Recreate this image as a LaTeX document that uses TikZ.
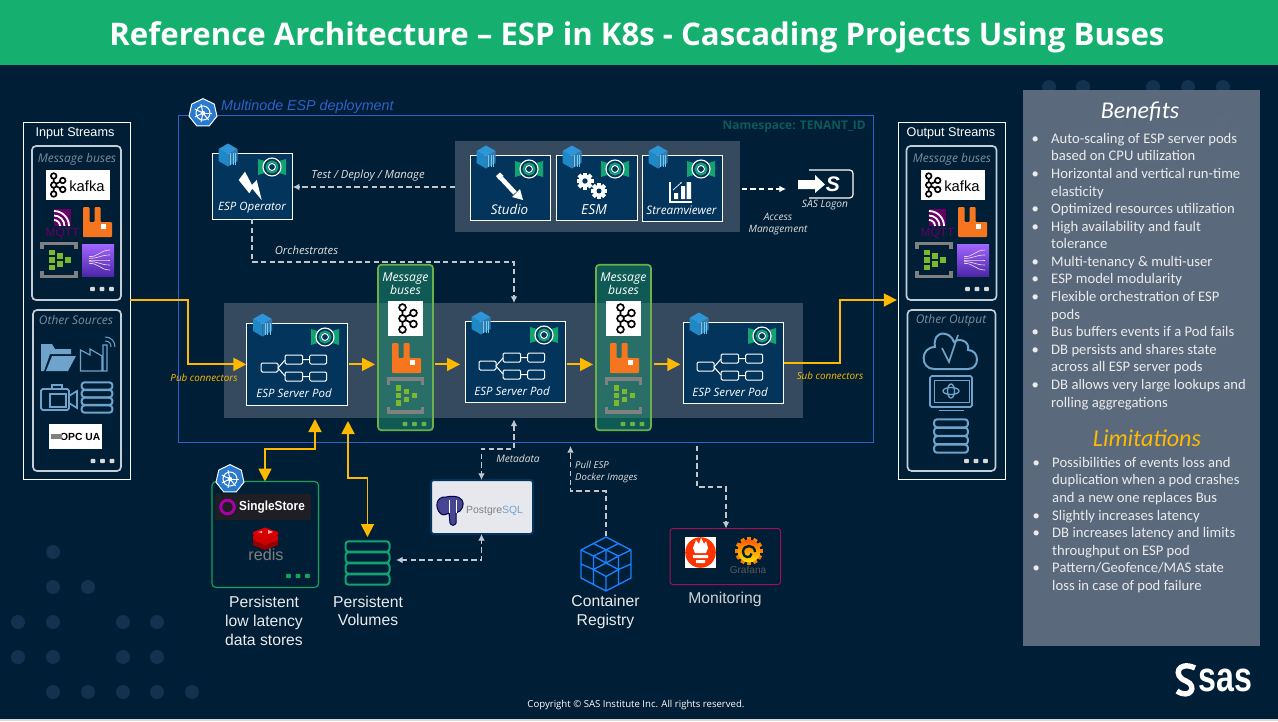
\documentclass[tikz,border=0pt]{standalone}
\usepackage{fontspec}
\setmainfont{Open Sans}
\newfontfamily\arial{Liberation Sans}
\newfontfamily\carlito{Carlito}
\usetikzlibrary{arrows.meta,shapes.geometric}
\definecolor{fond}{HTML}{001F36}
\definecolor{titre}{HTML}{15B070}
\definecolor{panneau}{HTML}{354A5E}
\definecolor{podbleu}{HTML}{03345C}
\definecolor{lateral}{HTML}{5F6E80}
\definecolor{point}{HTML}{12324F}
\definecolor{or}{HTML}{FFB900}
\definecolor{gristir}{HTML}{BFC7CF}
\definecolor{kbleu}{HTML}{2F62C8}
\definecolor{cadre}{HTML}{C5CDD6}
\definecolor{sourdine}{HTML}{7D8C9C}
\definecolor{ciel}{HTML}{6FA3CC}
\definecolor{feuille}{HTML}{6CB04A}
\definecolor{vertdb}{HTML}{12A35C}
\definecolor{vertpile}{HTML}{12A372}
\definecolor{prune}{HTML}{660066}
\definecolor{herbe}{HTML}{7AB82E}
\definecolor{espace}{HTML}{0D5A5A}
\definecolor{magenta1}{HTML}{9E1056}
\definecolor{rabbit}{HTML}{F6761F}
\newcommand{\fs}[1]{\fontsize{#1}{#1}\selectfont}
\newcommand{\ligne}{\par\noindent\llap{\textbullet\hspace{10.5pt}}}
\begin{document}
\begin{tikzpicture}[x=0.03cm, y=-0.03cm]
	\tikzset{
		taille/.style 2 args={minimum width=#1*0.03cm, minimum height=#2*0.03cm, inner sep=0, outer sep=0},
		boite/.style={rectangle, draw=white, line width=0.03cm},
		pod/.style={boite, fill=podbleu},
		groupe/.style={rectangle, draw=cadre, line width=0.05cm, rounded corners=0.12cm},
		gris/.style={rectangle, fill=panneau},
		busvert/.style={rectangle, draw=feuille, line width=0.05cm, rounded corners=0.1cm, fill=none},
		etiq/.style={inner sep=0, text=white, font=\fs{9.8}\itshape},
		petit/.style={inner sep=0, text=white!88!black, font=\fs{9.6}\itshape, align=center},
		sourd/.style={inner sep=0, text=sourdine, font=\fs{10.2}\itshape},
		jaunet/.style={inner sep=0, text=or, font=\fs{8.4}\itshape},
		legende/.style={inner sep=0, text=white!92!black, font=\arial\fs{13.4}, align=center},
		fleche/.style={>={Triangle[length=0.39cm, width=0.39cm]}, ->, draw=or, line width=0.055cm},
		tiret/.style={>={Latex[length=0.2cm, width=0.2cm]}, ->, draw=gristir, line width=0.035cm, dash pattern=on 0.16cm off 0.1cm},
		pics/cube/.style={code={
			\fill[cyan!70!blue!85!white] (0,-11.5) -- (9.5,-6) -- (0,-1) -- (-9.5,-6) -- cycle;
			\fill[cyan!75!blue!90!black] (-9.5,-6) -- (0,-1) -- (0,11.5) -- (-9.5,6) -- cycle;
			\fill[cyan!70!blue!75!black] (0,-1) -- (9.5,-6) -- (9.5,6) -- (0,11.5) -- cycle;
			\foreach \x in {2.5,5,7.5} \draw[cyan!60!white, line width=0.015cm] (\x,-2) -- (\x,9.5);
		}},
		pics/badge/.style={code={
			\fill[vertpile] (-14,-8) -- (-4,-5) -- (-4,5) -- (-14,8) -- cycle;
			\fill[vertpile] (14,-8) -- (4,-5) -- (4,5) -- (14,8) -- cycle;
			\draw[white, fill=podbleu, line width=0.035cm] (0,0) circle (9);
			\draw[vertpile, line width=0.06cm] (0,0) circle (5.5);
			\draw[white, line width=0.03cm] (0,0) circle (3.5);
		}},
		pics/flot/.style={code={
			\draw[white, line width=0.03cm, rounded corners=0.04cm]
				(-33,-5) rectangle (-16,4) (-9,-13) rectangle (8.7,-4) (15.7,-13) rectangle (32.7,-4)
				(-9,4) rectangle (8.7,13) (15.7,4) rectangle (32.7,13);
			\draw[white, line width=0.03cm] (-16,0) -- (-9,-8) (-16,0) -- (-9,8) (8.7,-8.5) -- (15.7,-8.5) (8.7,8.5) -- (15.7,8.5);
		}},
		pics/trois/.style={code={
			\foreach \x in {-9.5,0,9.5} \fill[#1, rounded corners=0.02cm] (\x-2.3,-2.1) rectangle (\x+2.3,2.1);
		}},
		pics/kafka/.style={code={
			\draw[black, line width=0.05cm] (-4,0) -- (-4,-11) (-4,0) -- (-4,11) (-4,0) -- (7,-5.5) (-4,0) -- (7,5.5);
			\foreach \p in {(-4,0),(-4,-11),(-4,11),(7,-5.5),(7,5.5)} \draw[black, fill=white, line width=0.05cm] \p circle (3.4);
		}},
		pics/lapin/.style={code={
			\fill[rabbit, rounded corners=0.03cm] (-14.5,-15) -- (-8,-15) -- (-8,0) -- (-3,0) -- (-3,-15) -- (3,-15) -- (3,0) -- (14.5,0) -- (14.5,15) -- (-14.5,15) -- cycle;
			\fill[white] (3,2) rectangle (8,7);
		}},
		pics/hub/.style={code={
			\draw[gray, line width=0.1cm] (-17,-11) -- (-17,-16.5) -- (17,-16.5) -- (17,-11);
			\draw[gray, line width=0.1cm] (-17,11) -- (-17,16.5) -- (17,16.5) -- (17,11);
			\foreach \p in {(-7,-7.5),(-7,0),(-7,7.5),(1,-4),(1,4),(9,0)} \fill[herbe] \p ++(-2.8,-2.6) rectangle ++(5.6,5.2);
		}},
		pics/kinesis/.style={code={
			\shade[top color={rgb,255:red,161;green,102;blue,255}, bottom color={rgb,255:red,77;green,39;blue,168}] (-16,-16) rectangle (16,16);
			\foreach \a/\b in {-10/-8,-5/-4,0/0,5/4,10/8} \draw[white!85!violet, line width=0.02cm] (-9,\b*0.45) .. controls (0,\b*0.3) and (2,\a) .. (12,\a);
		}},
		pics/mqtt/.style={code={
			\fill[prune] (-8.5,-13) rectangle (8.5,4);
			\foreach \r in {6,10.5,15} \draw[white, line width=0.055cm] (-8.5,4-\r) .. controls (-8.5+\r*0.55,4-\r) and (-8.5+\r,4-\r*0.55) .. (-8.5+\r,4);
			\node[inner sep=0, text=prune, font=\arial\fs{10.2}] (t) at (0,11) {MQTT};
		}},
		pics/pile/.style={code={
			\foreach \y in {-16.5,-5.5,5.5,16.5} \draw[#1, line width=0.06cm, rounded corners=0.09cm] (-22,\y-5.2) rectangle (22,\y+5.2);
		}},
		pics/kube/.style={code={
			\node[regular polygon, regular polygon sides=7, draw=white, fill=kbleu!85!cyan, line width=0.03cm, minimum size=0.86cm, inner sep=0] (h) at (0,0) {};
			\draw[white, line width=0.03cm] (0,0) circle (7);
			\foreach \a in {0,51.4,...,308} \draw[white, line width=0.03cm] (0,0) -- (\a:9);
			\fill[white] (0,0) circle (2.2);
		}},
		pics/logokafka/.style={code={
			\node[fill=white, taille={64}{30}] (b) at (0,0) {};
			\pic[scale=0.82] at (-21,0) {kafka};
			\node[inner sep=0, text=black, font=\arial\fs{12.6}] (t) at (9,1) {kafka};
		}},
		pics/bus5/.style={code={
			\pic (k) at (1,-37) {logokafka};
			\pic (m) at (-14.5,0) {mqtt};
			\pic at (20.5,0) {lapin};
			\pic at (-18,38) {hub};
			\pic at (21,38) {kinesis};
			\pic at (25,67) {trois={white!85!black}};
		}},
	}

	\path[use as bounding box, fill=fond] (0,0) rectangle (1278,721);
	\foreach \p in {(53,552),(53,587),(88,587),(18,622),(53,622),(123,622),(157,622),(18,657),(53,657),(123,657),(157,657),(53,692),(88,692),(123,692),(157,692),(192,692),(1049,87),(1083,87),(1153,87),(1188,87),(1223,87),(1118,122),(1153,122),(1223,122),(1153,157)}
		\fill[point] \p circle (7);
	\fill[white!85!black] (0,719) rectangle (1278,721);

	\node[fill=titre, taille={1278}{65}] (bande) at (639,32.5) {};
	\node[inner sep=0, text=white, font=\bfseries\fs{26.6}] (titre1) at (637,37) {Reference Architecture – ESP in K8s - Cascading Projects Using Buses};

	\node[fill=lateral, fill opacity=0.95, taille={237}{556}] (droite) at (1141.5,368) {};
	\node[inner sep=0, text=white, font=\carlito\itshape\fs{20.5}] (benef) at (1140,112) {Benefits};
	\node[inner sep=0, text=or, font=\carlito\itshape\fs{20.6}] (limit) at (1147,438) {Limitations};
	\node[inner sep=0, anchor=north west, text=white!92!black, font=\carlito\fs{12.5}] (liste1) at (1051,133) {\parbox{195pt}{\baselineskip=15pt
		\ligne Auto-scaling of ESP server pods\newline based on CPU utilization
		\ligne Horizontal and vertical run-time\newline elasticity
		\ligne Optimized resources utilization
		\ligne High availability and fault\newline tolerance
		\ligne Multi-tenancy \& multi-user
		\ligne ESP model modularity
		\ligne Flexible orchestration of ESP\newline pods
		\ligne Bus buffers events if a Pod fails
		\ligne DB persists and shares state\newline across all ESP server pods
		\ligne DB allows very large lookups and\newline rolling aggregations}};
	\node[inner sep=0, anchor=north west, text=white!92!black, font=\carlito\fs{12.5}] (liste2) at (1052,457) {\parbox{195pt}{\baselineskip=15pt
		\ligne Possibilities of events loss and\newline duplication when a pod crashes\newline and a new one replaces Bus
		\ligne Slightly increases latency
		\ligne DB increases latency and limits\newline throughput on ESP pod
		\ligne Pattern/Geofence/MAS state\newline loss in case of pod failure}};

	\node[draw=kbleu, line width=0.028cm, taille={695}{327}] (deploy) at (525.5,278.5) {};
	\pic at (203,113) {kube};
	\node[inner sep=0, anchor=west, text=kbleu, font=\arial\itshape\fs{12.2}] (multi) at (221,107) {Multinode ESP deployment};
	\node[inner sep=0, anchor=east, text=espace, font=\bfseries\fs{10.2}] (espacet) at (866,127) {Namespace: TENANT\_ID};

	\node[gris, taille={285}{91}] (haut) at (597.5,186.5) {};
	\node[gris, taille={579}{115}] (milieu) at (513.5,360.5) {};

	\node[boite, fill=none, taille={107}{357}] (entree) at (76.5,300.5) {};
	\node[groupe, taille={89}{154}] (ebus) at (76.5,223) {};
	\node[groupe, taille={88}{161}] (eautre) at (77,390.5) {};
	\node[inner sep=0, text=white, font=\arial\fs{10.8}] (entreet) at (75,133) {Input Streams};
	\node[sourd] (ebust) at (77,159) {Message buses};
	\node[sourd] (eautret) at (76,320) {Other Sources};
	\pic (e) at (77,222) {bus5};

	\node[boite, fill=none, taille={107}{357}] (sortie) at (952,300.5) {};
	\node[groupe, taille={90}{154}] (sbus) at (951.5,223) {};
	\node[groupe, taille={88}{161}] (sautre) at (951.5,390.5) {};
	\node[inner sep=0, text=white, font=\arial\fs{10.8}] (sortiet) at (951,133) {Output Streams};
	\node[sourd] (sbust) at (952,159) {Message buses};
	\node[sourd] (sautret) at (951,320) {Other Output};
	\pic (s) at (952,222) {bus5};

	\fill[ciel] (41,344) -- (52,344) -- (55,349) -- (71,349) -- (71,354) -- (50,354) -- (44,371) -- (41,371) -- cycle;
	\fill[ciel] (52,356) -- (76,356) -- (68,371) -- (46,371) -- cycle;
	\draw[ciel, line width=0.035cm] (80.5,371) -- (80.5,350) -- (90,355) -- (90,349) -- (102,356) -- (102,371) -- cycle (102,371) -- (107,371) -- (107,345) -- (103,345) -- (103,371);
	\draw[ciel, line width=0.03cm] (105,341) .. controls (109,341) and (111,343) .. (111,347) (105,337) .. controls (111,337) and (115,341) .. (115,347);
	\draw[ciel, line width=0.05cm, rounded corners=0.05cm] (41,389) rectangle (69,410);
	\draw[ciel, line width=0.05cm] (50,394) rectangle (66,407) (52,389) -- (52,385) -- (62,385) -- (62,389) (69,396) -- (77,391) -- (77,408) -- (69,403);
	\pic[scale=0.7] at (97,397.5) {pile=ciel};
	\node[fill=white, taille={53}{25}] (opc) at (75.5,436.5) {};
	\node[inner sep=0, anchor=east, text=black, font=\arial\bfseries\fs{8.8}] (opct) at (100.5,437) {OPC UA};
	\fill[gray] (51,434) rectangle (62,439);
	\pic at (102.5,461) {trois={white!85!black}};

	\draw[ciel, line width=0.06cm] (934,369) -- (968,369) .. controls (980,369) and (980,350) .. (968,350) .. controls (970,340) and (958,338) .. (954,342) .. controls (950,330) and (932,330) .. (935,347) .. controls (920,347) and (920,369) .. (934,369);
	\draw[ciel, line width=0.05cm] (942,348) -- (949,362) -- (958,335);
	\draw[ciel, line width=0.05cm, rounded corners=0.05cm] (930,376) rectangle (972,407);
	\draw[ciel, line width=0.03cm] (934,380) rectangle (969,402) (939,410) -- (964,410);
	\draw[ciel, line width=0.04cm] (951,391) ellipse (8 and 3.5) (951,391) ellipse (3.5 and 7);
	\pic[scale=0.77] at (951,436) {pile=ciel};
	\pic at (976,461) {trois={white!85!black}};

	\node[pod, taille={80.5}{66}] (oper) at (252.5,186) {};
	\pic at (228,155) {cube};
	\pic at (272,167) {badge};
	\fill[white] (238.7,180) -- (245,171.7) -- (252,185) -- (256.7,180) -- (261.7,200) -- (252.3,188.7) -- (249.3,193.3) -- cycle;
	\node[etiq] (opert) at (252,207.5) {ESP Operator};

	\node[pod, taille={80}{65}] (studio) at (510,187.5) {};
	\node[pod, taille={81}{65}] (esm) at (596.5,187.5) {};
	\node[pod, taille={80.5}{66}] (viewer) at (682.3,188) {};
	\foreach \x in {486,572,658} \pic at (\x,157) {cube};
	\foreach \x in {529,615,701} \pic at (\x,169) {badge};
	\draw[white, line width=0.14cm] (501,178) -- (515,193);
	\fill[white] (500,172.5) -- (496,176) -- (499,180) -- (503.5,176) -- cycle;
	\fill[white] (512,197) -- (520,189) -- (523,200) -- cycle;
	\foreach \a in {0,45,...,315} {
		\fill[white, shift={(585,181)}, rotate=\a] (-2,-8.5) rectangle (2,0);
		\fill[white, shift={(599,191)}, rotate=\a] (-2,-8) rectangle (2,0);
	}
	\fill[white] (585,181) circle (6.5) (599,191) circle (6);
	\fill[podbleu] (585,181) circle (2.7) (599,191) circle (2.5);
	\draw[white, line width=0.035cm] (670,182) -- (670,202) -- (692,202);
	\fill[white] (674,193) rectangle (678,199) (681,186) rectangle (685,199) (686.5,182) rectangle (691,199);
	\draw[white, line width=0.02cm, -{Latex[length=0.06cm]}] (673,190) -- (682,182);
	\node[etiq, font=\fs{11.4}\itshape] (studiot) at (509.5,209.5) {Studio};
	\node[etiq, font=\fs{11.8}\itshape] (esmt) at (594,209.5) {ESM};
	\node[etiq, font=\fs{10}\itshape] (viewert) at (681.5,210.5) {Streamviewer};

	\node[pod, taille={101.4}{81.2}] (pod1) at (297,364.4) {};
	\node[pod, taille={100.7}{81.4}] (pod2) at (515.4,362) {};
	\node[pod, taille={100.4}{81.4}] (pod3) at (733.5,363) {};
	\pic at (262.5,325) {cube};
	\pic at (481,323) {cube};
	\pic at (699,324) {cube};
	\pic at (325,337) {badge};
	\pic at (544,335) {badge};
	\pic at (762,336) {badge};
	\pic at (294,368) {flot};
	\pic at (512,366) {flot};
	\pic at (730,367) {flot};
	\node[etiq] (pod1t) at (294,393.5) {ESP Server Pod};
	\node[etiq] (pod2t) at (512,391.5) {ESP Server Pod};
	\node[etiq] (pod3t) at (730,392.5) {ESP Server Pod};

	\foreach \n/\x in {bus1/405.5, bus2/623.5} {
		\node[draw=none, fill={rgb,255:red,30;green,149;blue,114}, fill opacity=0.5, taille={55}{165.5}] (\n) at (\x,347.5) {};
		\node[busvert, taille={55}{165.5}] (\n c) at (\x,347.5) {};
		\node[etiq, align=center, font=\fs{10.4}\itshape] (\n t) at (\x,284) {Message\\[0.5pt]buses};
		\node[fill=white, taille={35.5}{35.5}] (\n k) at (\x,318.5) {};
		\pic at (\x+1,318.5) {kafka};
		\pic at (\x+1,358) {lapin};
		\pic at (\x,395.5) {hub};
		\pic at (\x+9,424) {trois=feuille};
	}

	\node[draw=vertdb, line width=0.035cm, rounded corners=0.12cm, taille={106.5}{106}] (stores) at (265.3,534.5) {};
	\pic at (230,479) {kube};
	\node[fill={rgb,255:red,30;green,30;blue,36}, taille={96}{26}] (single) at (263,507) {};
	\draw[violet!70!magenta, line width=0.09cm] (227.5,507) circle (6.8);
	\node[inner sep=0, anchor=west, text=white, font=\arial\bfseries\fs{11.2}] (singlet) at (239,507) {\scalebox{0.9}[1]{SingleStore}};
	\fill[red!60!black] (253,541) -- (265,536) -- (278,541) -- (278,545) -- (265,550) -- (253,545) -- cycle;
	\fill[red!80!black] (253,536) -- (265,531) -- (278,536) -- (278,540) -- (265,545) -- (253,540) -- cycle;
	\fill[red!85!black] (253,532) -- (265,527.5) -- (278,532) -- (278,535) -- (265,540) -- (253,535) -- cycle;
	\fill[white!70!red] (258,532) -- (262,531) -- (262,533) -- cycle (268,530) -- (273,532) -- (268,534) -- cycle;
	\node[inner sep=0, text=gray, font=\arial\fs{13.8}] (redis) at (266,555) {redis};
	\pic at (298,576) {trois=vertdb};
	\node[legende] (storest) at (264,621) {Persistent\\[2.6pt]low latency\\[2.6pt]data stores};

	\pic at (367.5,563) {pile=vertpile};
	\node[legende] (volt) at (368,611) {Persistent\\[2.6pt]Volumes};
	\coordinate (pileh) at (367.5,537);
	\coordinate (piled) at (396,560);

	\node[draw=podbleu, fill={rgb,255:red,230;green,232;blue,237}, line width=0.06cm, rounded corners=0.08cm, taille={102}{54}] (pg) at (482,507) {};
	\draw[black!70!blue, line width=0.03cm, fill=blue!35!gray!85!black] (446,497) .. controls (436,496) and (434,508) .. (441,514) .. controls (444,516) and (447,514) .. (449,513) -- (450,523) .. controls (451,526) and (455,526) .. (456,523) -- (456,513) .. controls (462,512) and (465,504) .. (462,500) .. controls (458,495) and (451,496) .. (446,497) -- cycle;
	\draw[white, line width=0.02cm] (449,500) -- (449,513) (456,500) -- (456,513);
	\node[inner sep=0, anchor=west, text=gray, font=\arial\fs{8.9}] (pgt) at (466,511) {Postgre\textcolor{ciel}{SQL}};

	\draw[blue!55!cyan!90!white, line width=0.04cm, line join=round, shift={(606,564)}]
		(0,-27) -- (25,-14) -- (25,14) -- (0,27) -- (-25,14) -- (-25,-14) -- cycle
		(-12.5,-20.5) -- (12.5,-8) (12.5,-20.5) -- (-12.5,-8) (0,-14) -- (0,-1)
		(-25,-14) -- (-12.5,-8) (25,-14) -- (12.5,-8) (-12.5,-8) -- (-12.5,20.5) (12.5,-8) -- (12.5,20.5)
		(-12.5,-8) -- (0,-1) -- (12.5,-8) (-12.5,5.5) -- (0,-1) -- (12.5,5.5) (-12.5,5.5) -- (0,12.5) -- (12.5,5.5)
		(0,12.5) -- (0,27) (-25,0) -- (-12.5,5.5) (25,0) -- (12.5,5.5);
	\coordinate (regh) at (606,536);
	\node[legende] (regt) at (605.5,612) {Container\\[2.6pt]Registry};

	\node[draw=magenta1, line width=0.03cm, rounded corners=0.08cm, taille={110.5}{56}] (moni) at (725.3,556.5) {};
	\node[fill=white, taille={31}{31}] (prom) at (700.5,552.5) {};
	\fill[orange!40!red] (700.5,552.5) circle (15.3);
	\fill[white] (693,548) -- (696,540) -- (699,544) -- (701,538) -- (704,544) -- (706,541) -- (708,548) -- (706,553) -- (695,553) -- cycle;
	\fill[white] (693,555) rectangle (708,558) (696,560) rectangle (705,563);
	\foreach \a in {0,30,...,330} \fill[orange, shift={(749,551)}, rotate=\a] (-2,-14) rectangle (2,0);
	\shade[top color=orange!70!red, bottom color=yellow!80!orange] (749,551) circle (11.5);
	\draw[fond, line width=0.07cm] (755,552) .. controls (755,544) and (743,544) .. (743,552) .. controls (743,558) and (751,559) .. (751.5,553.5);
	\node[inner sep=0, text=gray!70!black, font=\arial\fs{8.6}] (grafana) at (748,570) {Grafana};
	\node[legende, text=white!82!black] (monit) at (725,599) {Monitoring};

	\draw[white, line width=0.035cm, rounded corners=0.1cm] (809,170) -- (853,170) -- (853,198) -- (809,198);
	\fill[fond] (805,174) rectangle (816,195);
	\fill[white] (798,180) -- (815,180) -- (815,175) -- (825,184.5) -- (815,193) -- (815,189) -- (798,189) -- cycle;
	\node[inner sep=0, text=white, font=\arial\bfseries\itshape\fs{18}] (logos) at (833,184) {S};
	\node[petit, font=\fs{8.7}\itshape] (logont) at (825,205) {SAS Logon};
	\coordinate (logon) at (786,189);

	\draw[fleche] (entree.east |- 0,300) -- (188,300) |- (pod1.west);
	\draw[fleche, shorten <=0.05cm, shorten >=0.09cm] (pod1.east) -- (bus1c.west |- pod1.east);
	\draw[fleche, shorten <=0.05cm, shorten >=0.15cm] (bus1c.east |- pod1.east) -- (pod2.west |- pod1.east);
	\draw[fleche, shorten <=0.05cm, shorten >=0.09cm] (pod2.east |- pod1.east) -- (bus2c.west |- pod1.east);
	\draw[fleche, shorten <=0.08cm, shorten >=0.09cm] (bus2c.east |- pod1.east) -- (pod3.west |- pod1.east);
	\draw[fleche, shorten >=0.05cm] (pod3.east) -- (840,363) |- (sortie.west |- 0,300);
	\draw[fleche, <->] (315,419) -- (315,449) -- (265,449) -- (stores.north -| 265,0);
	\draw[fleche, <->] (348,421) -- (348,478) -- (367.5,478) -- (pileh);

	\draw[tiret] (haut.west |- 0,187) -- (oper.east |- 0,187);
	\node[petit] (testt) at (368,176) {Test / Deploy / Manage};
	\draw[tiret] (oper.south -| 252,0) -- (252,262) -- (514,262) -- (514,303);
	\node[petit] (orcht) at (306.5,250) {Orchestrates};
	\draw[tiret, draw=white, shorten <=0.05cm] (haut.east |- 0,189) -- (logon);
	\node[petit, font=\fs{8.6}\itshape] (acces) at (778,224) {Access\\[1.5pt]Management};
	\draw[tiret, <->] (514,419.5) -- (514,449) -- (481.5,449) -- (pg.north -| 481.5,0);
	\node[petit, font=\fs{8.7}\itshape] (metat) at (518,459) {Metadata};
	\draw[tiret, <->] (piled) -- (481.5,560) -- (pg.south -| 481.5,0);
	\draw[tiret] (regh) -- (606,491) -- (570.5,491) -- (570.5,446);
	\node[petit, anchor=west, align=left, font=\fs{8.2}\itshape] (pullt) at (575,472) {Pull ESP\\[1.5pt]Docker Images};
	\draw[tiret] (697,446) -- (697,487) -- (726,487) -- (moni.north -| 726,0);

	\node[jaunet] (pubt) at (204,378) {Pub connectors};
	\node[jaunet] (subt) at (830,376) {Sub connectors};

	\draw[white, line width=0.16cm] (1195,668) .. controls (1178,660) and (1172,676) .. (1186,681) .. controls (1198,686) and (1190,700) .. (1177,691);
	\node[inner sep=0, anchor=base west, text=white, font=\arial\bfseries\fs{35.7}] (saslogo) at (1198,691) {\scalebox{0.77}[1]{sas}};
	\node[inner sep=0, text=white, font=\fs{8.2}] (copie) at (636,704.5) {Copyright © SAS Institute Inc. All rights reserved.};
\end{tikzpicture}
\end{document}
